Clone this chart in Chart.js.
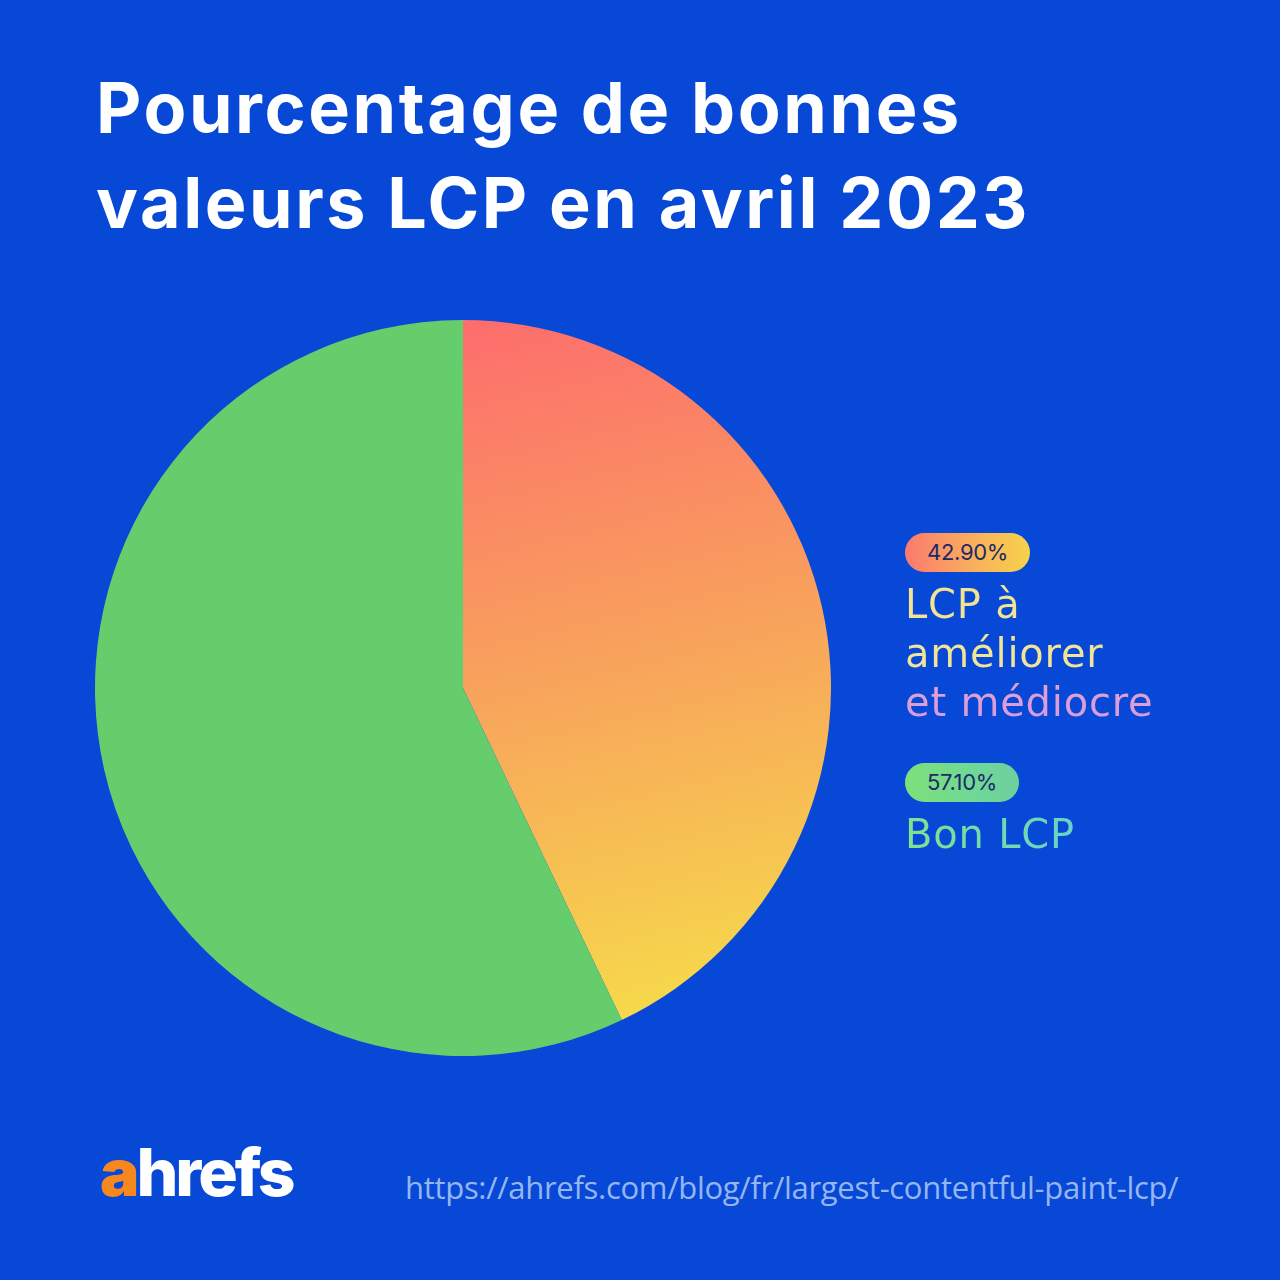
<!DOCTYPE html>
<html>
<head>
<meta charset="utf-8">
<script src="https://cdn.jsdelivr.net/npm/chart.js@4"></script>
<style>
  html, body { margin: 0; padding: 0; }
  body { width: 1280px; height: 1280px; background: #0848d7; position: relative; overflow: hidden; font-family: Inter, 'Noto Sans', sans-serif; }
  .title { position: absolute; left: 96px; top: 60px; color: #fff; font-weight: 700; font-size: 70px; line-height: 95px; letter-spacing: 2.6px; }
  #pieWrap { position: absolute; left: 85px; top: 310px; width: 756px; height: 756px; }
  .leg { position: absolute; left: 905px; }
  .pill { display: inline-block; height: 39px; line-height: 39px; padding: 0 22px; border-radius: 20px; font-size: 22px; color: #1d2a66; letter-spacing: -0.3px; }
  .lab { font-size: 40px; line-height: 49px; margin-top: 8px; font-family: 'DejaVu Sans', sans-serif; letter-spacing: 0.8px; }
  .lab span { display: inline-block; -webkit-background-clip: text; background-clip: text; color: transparent; }
  .logo { position: absolute; left: 100px; top: 1132px; font-size: 66px; font-weight: 800; color: #fff; letter-spacing: -3px; }
  .logo b { color: #f7871f; }
  .url { position: absolute; left: 405px; top: 1166px; font-size: 31px; color: #95b6f0; font-family: 'Open Sans', sans-serif; letter-spacing: -0.3px; }
</style>
</head>
<body>
<div class="title">Pourcentage de bonnes<br>valeurs LCP en avril 2023</div>
<div id="pieWrap"><canvas id="cPie"></canvas></div>
<div id="legend"></div>
<div class="logo"><b>a</b>hrefs</div>
<div class="url">https://ahrefs.com/blog/fr/largest-contentful-paint-lcp/</div>
<script>
const LABELS    = ['LCP à améliorer et médiocre', 'Bon LCP'];
const VALUES    = [42.9, 57.1];
const PILLS     = ['42.90%', '57.10%'];
const LAB_LINES = [['LCP à', 'améliorer', 'et médiocre'], ['Bon LCP']];

const BG_PILL = [
  'linear-gradient(90deg,#fb7a6e,#f9b45a 60%,#f6d24c)',
  'linear-gradient(90deg,#7de07a,#6fd896 60%,#6ecfa0)'
];
const BG_TEXT = [
  'linear-gradient(180deg,#f3e48f 0%,#f1e49a 62%,#e3a2cf 70%,#d699e2 100%)',
  'linear-gradient(90deg,#7ee38e,#69d2c8)'
];
const LEG_TOP = [533, 763];

let html = '';
LABELS.forEach((l, i) => {
  html += `<div class="leg" style="top:${LEG_TOP[i]}px">
    <div class="pill" style="background:${BG_PILL[i]}">${PILLS[i]}</div>
    <div class="lab"><span style="background-image:${BG_TEXT[i]}">${LAB_LINES[i].join('<br>')}</span></div>
  </div>`;
});
document.getElementById('legend').innerHTML = html;

function warmFill(ctx) {
  const ch = ctx.chart;
  const a = ch.chartArea;
  if (!a) return '#f9a35b';
  const g = ch.ctx.createLinearGradient(a.left + a.width / 2, a.top, a.left + a.width * 0.72, a.bottom - a.height * 0.05);
  g.addColorStop(0, '#fd6d6d');
  g.addColorStop(0.5, '#f8a25c');
  g.addColorStop(1, '#f6d94b');
  return g;
}

new Chart(document.getElementById('cPie'), {
  type: 'pie',
  data: {
    labels: LABELS,
    datasets: [{
      data: VALUES,
      backgroundColor: ctx => ctx.dataIndex === 0 ? warmFill(ctx) : '#66cd6d',
      borderWidth: 0
    }]
  },
  options: {
    responsive: true, maintainAspectRatio: false, animation: false,
    layout: { padding: 10 },
    plugins: { legend: { display: false }, tooltip: { enabled: false } }
  }
});
</script>
</body>
</html>
